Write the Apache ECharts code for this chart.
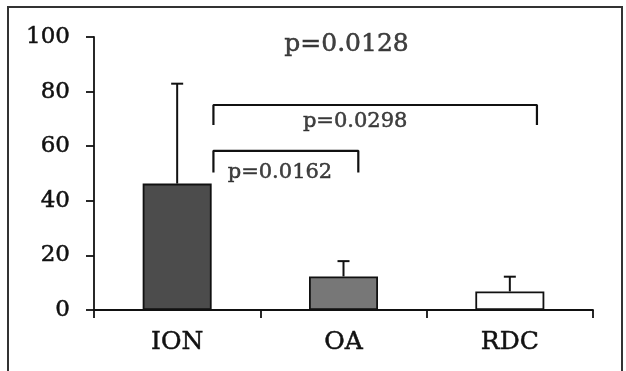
<!DOCTYPE html>
<html>
<head>
<meta charset="utf-8">
<script src="https://cdn.jsdelivr.net/npm/echarts@6/dist/echarts.min.js"></script>
<style>
html, body { margin: 0; padding: 0; background: #fff; }
#chart { width: 626px; height: 371px; }
</style>
</head>
<body>
<div id="chart"></div>
<script>
// data
const categories = ['ION', 'OA', 'RDC']
const means = [46.3, 12.3, 6.8]
const errTops = [82.9, 17.9, 12.2]
const barColors = ['#4c4c4c', '#777777', '#ffffff']
const yTicks = [0, 20, 40, 60, 80, 100]

// brackets on a hidden 0..3 x scale: [left, right, top, foot]
const bracketBig = [0.718, 2.663, 75.1, 67.8]
const bracketSmall = [0.718, 1.589, 58.3, 50.4]
// p-value labels: [x, y, text, size]
const pLabels = [
    [1.518, 97.3, 'p=0.0128', 25],
    [1.570, 69.1, 'p=0.0298', 21],
    [1.118, 50.4, 'p=0.0162', 21]
]

const serif = 'DejaVu Serif'
const ink = '#111'

function bracketPoints (b) {
    return [[b[0], b[3]], [b[0], b[2]], [b[1], b[2]], [b[1], b[3]]]
}

const myChart = echarts.init(document.getElementById('chart'))

myChart.setOption({
    animation: false,
    grid: {
        left: 94,
        right: 33,
        top: 37,
        bottom: 61
    },
    graphic: [{
        type: 'rect',
        shape: { x: 8, y: 7, width: 614, height: 400 },
        style: { fill: 'none', stroke: '#333', lineWidth: 2 }
    }],
    xAxis: [{
        type: 'category',
        data: categories,
        axisLine: { lineStyle: { color: ink, width: 1.8 } },
        axisTick: { show: true, length: 8, lineStyle: { color: ink, width: 1.8 } },
        axisLabel: {
            margin: 20,
            fontFamily: serif,
            fontSize: 25,
            color: ink,
            textBorderColor: ink,
            textBorderWidth: 0.5
        }
    }, {
        type: 'value',
        min: 0,
        max: 3,
        show: false
    }],
    yAxis: {
        type: 'value',
        min: 0,
        max: 100,
        interval: 20,
        axisLine: { show: true, lineStyle: { color: ink, width: 1.8 } },
        axisTick: { show: true, length: 8, lineStyle: { color: ink, width: 1.8 } },
        splitLine: { show: false },
        axisLabel: {
            margin: 24,
            fontFamily: serif,
            fontSize: 23,
            color: ink,
            textBorderColor: ink,
            textBorderWidth: 0.5,
            formatter: v => (yTicks.indexOf(v) >= 0 ? String(v) : '')
        }
    },
    series: [{
        type: 'bar',
        barWidth: 69,
        z: 3,
        data: means.map((v, i) => ({
            value: v,
            itemStyle: { color: barColors[i], borderColor: ink, borderWidth: 1.8 }
        }))
    }, {
        // error bars, upper side only
        type: 'custom',
        z: 2,
        data: means.map((v, i) => [i, v, errTops[i]]),
        renderItem: function (params, api) {
            const low = api.coord([api.value(0), api.value(1)])
            const high = api.coord([api.value(0), api.value(2)])
            const half = 6
            return {
                type: 'group',
                children: [{
                    type: 'line',
                    shape: { x1: high[0], y1: low[1], x2: high[0], y2: high[1] },
                    style: { stroke: ink, lineWidth: 2 }
                }, {
                    type: 'line',
                    shape: { x1: high[0] - half, y1: high[1], x2: high[0] + half, y2: high[1] },
                    style: { stroke: ink, lineWidth: 2 }
                }]
            }
        }
    }, {
        type: 'line',
        xAxisIndex: 1,
        symbol: 'none',
        data: bracketPoints(bracketBig),
        lineStyle: { color: ink, width: 2.2 }
    }, {
        type: 'line',
        xAxisIndex: 1,
        symbol: 'none',
        data: bracketPoints(bracketSmall),
        lineStyle: { color: ink, width: 2.2 }
    }, {
        type: 'scatter',
        xAxisIndex: 1,
        symbolSize: 0,
        data: pLabels.map(p => ({
            value: [p[0], p[1]],
            label: {
                show: true,
                position: 'inside',
                formatter: p[2],
                fontFamily: serif,
                fontSize: p[3],
                color: ink,
                textBorderColor: ink,
                textBorderWidth: 0.5
            }
        }))
    }]
})
</script>
</body>
</html>
